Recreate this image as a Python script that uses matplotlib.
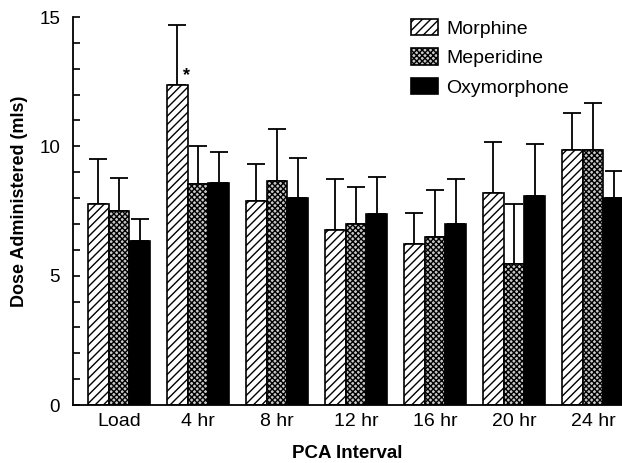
import numpy as np
import matplotlib
matplotlib.use('Agg')
import matplotlib.pyplot as plt

plt.rcParams['font.family'] = ['Liberation Sans', 'DejaVu Sans']
plt.rcParams['hatch.linewidth'] = 1.0

intervals = ['Load', '4 hr', '8 hr', '12 hr', '16 hr', '20 hr', '24 hr']
drugs = ['Morphine', 'Meperidine', 'Oxymorphone']

morphine = [7.77, 12.37, 7.90, 6.78, 6.21, 8.21, 9.86]
morphine_err = [1.73, 2.34, 1.42, 1.96, 1.20, 1.97, 1.41]
meperidine = [7.49, 8.53, 8.66, 6.99, 6.51, 5.45, 9.86]
meperidine_err = [1.28, 1.50, 2.02, 1.45, 1.82, 2.32, 1.80]
oxymorphone = [6.35, 8.57, 8.02, 7.37, 6.98, 8.09, 7.99]
oxymorphone_err = [0.86, 1.22, 1.53, 1.43, 1.76, 2.00, 1.07]

fig = plt.figure(figsize=(6.22, 4.63), dpi=100)
ax = fig.add_axes([72.7 / 622, 1 - 405 / 463, 1 - 72.7 / 622, (405 - 17) / 463])

x = np.arange(len(intervals))
w = 0.26
styles = [
    dict(facecolor='white', hatch='////'),
    dict(facecolor='#c8c8c8', hatch='xxxxxx'),
    dict(facecolor='black', hatch=None),
]
series = [(morphine, morphine_err), (meperidine, meperidine_err), (oxymorphone, oxymorphone_err)]

for k, ((vals, errs), st, name) in enumerate(zip(series, styles, drugs)):
    pos = x + (k - 1) * w
    ax.bar(pos, vals, w, facecolor=st['facecolor'], hatch=st['hatch'],
           edgecolor='black', linewidth=1.2, label=name, zorder=2)
    ax.errorbar(pos, vals, yerr=[np.zeros(len(errs)), errs], fmt='none',
                ecolor='black', elinewidth=1.3, capsize=6.5, capthick=1.3, zorder=1)

# significance marker
ax.text(x[1] - w + 0.12, morphine[1] + 0.35, '*', fontsize=13, fontweight='bold',
        ha='center', va='center')

ax.set_xlim(-0.586, 6.367)
ax.set_ylim(0, 15)
ax.set_yticks([0, 5, 10, 15])
ax.set_yticks(np.arange(0, 16, 1), minor=True)
ax.tick_params(axis='y', which='both', direction='in', length=5, width=1.2,
               labelsize=13.5, pad=9)
ax.set_xticks(x)
ax.set_xticklabels(intervals, fontsize=14)
ax.tick_params(axis='x', length=0, pad=6)
ax.spines['top'].set_visible(False)
ax.spines['right'].set_visible(False)
ax.spines['left'].set_linewidth(1.3)
ax.spines['bottom'].set_linewidth(1.3)

fig.text(347 / 622, 1 - 453 / 463, 'PCA Interval', fontsize=13.5, fontweight='bold',
         ha='center', va='center')
fig.text(20 / 622, 1 - 201 / 463, 'Dose Administered (mls)', rotation=90,
         fontsize=13, fontweight='bold', ha='center', va='center')

ax.legend(loc='upper left', bbox_to_anchor=(411 / 622, 1 - 19 / 463),
          bbox_transform=fig.transFigure, frameon=False, fontsize=14,
          handlelength=1.4, handleheight=0.9, handletextpad=0.4,
          labelspacing=0.55, borderpad=0, borderaxespad=0)

fig.savefig('out.png', dpi=100)
